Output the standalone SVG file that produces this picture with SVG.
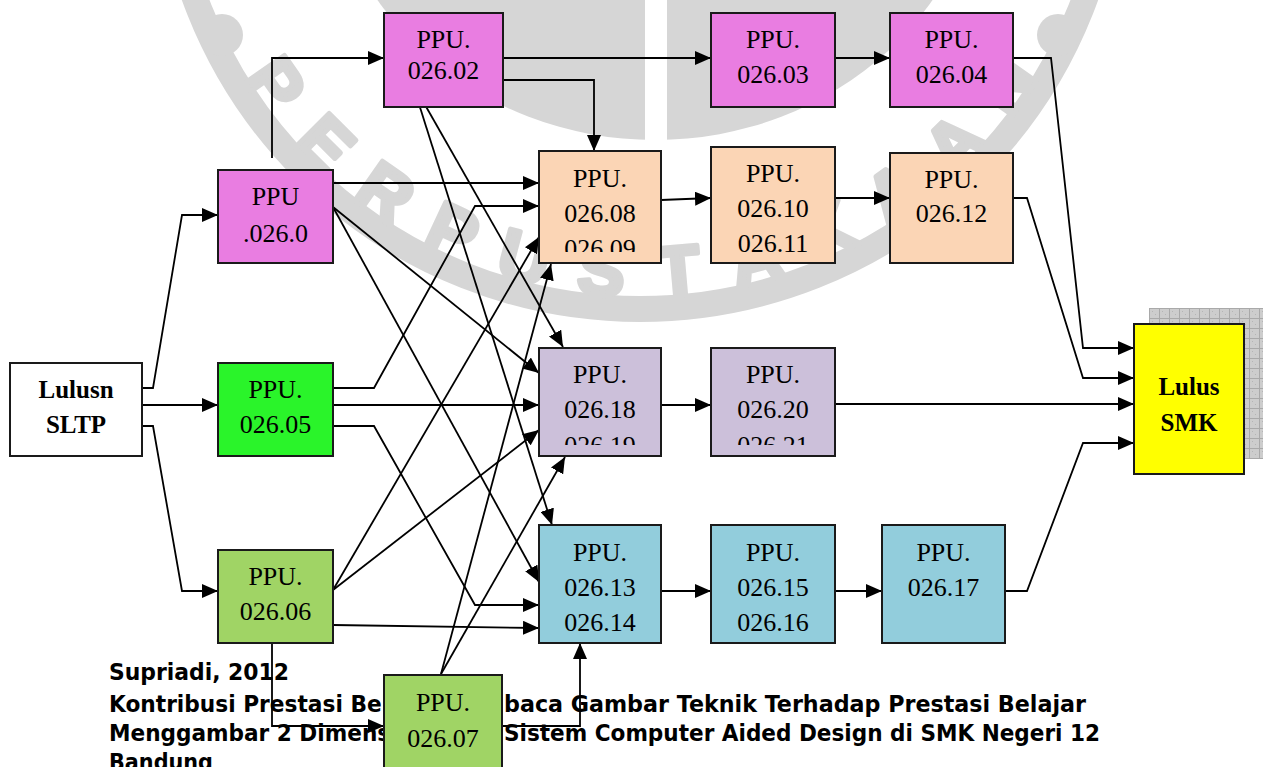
<svg xmlns="http://www.w3.org/2000/svg" width="1263" height="767" viewBox="0 0 1263 767">
<defs>
<style>
.box{stroke:#1a1a1a;stroke-width:2}
.pink{fill:#E97DE1}.peach{fill:#FBD5B5}.lav{fill:#CCC0DA}.blue{fill:#92CDDC}.green{fill:#2AF42A}.lgreen{fill:#A0D465}.yellow{fill:#FFFF00}.white{fill:#FFFFFF}
.t{font-family:"Liberation Serif","Times New Roman",serif;font-size:26px;text-anchor:middle;fill:#000}
.tb{font-family:"Liberation Serif","Times New Roman",serif;font-size:25px;font-weight:bold;text-anchor:middle;fill:#000}
.foot{font-family:"DejaVu Sans","Liberation Sans",sans-serif;font-size:23px;font-weight:bold;fill:#000}
.wm{font-family:"Liberation Sans",Arial,sans-serif;font-size:70px;font-weight:bold;fill:#d6d6d6;stroke:#d6d6d6;stroke-width:5;stroke-linejoin:round;text-anchor:middle}
.ca{fill:none;stroke:#000;stroke-width:1.8;marker-end:url(#ah)}
</style>
<marker id="ah" markerWidth="16" markerHeight="14" refX="16" refY="7" orient="auto" markerUnits="userSpaceOnUse"><path d="M0,0 L16,7 L0,14 z" fill="#000"/></marker>
<pattern id="grid" width="10" height="10" patternUnits="userSpaceOnUse" x="1149" y="308">
<rect width="10" height="10" fill="#cdcdcd"/>
<path d="M0,0.5 H10 M0.5,0 V10" stroke="#a9a9a9" stroke-width="1"/>
<rect x="3" y="3" width="1" height="1" fill="#b5b5b5"/><rect x="6" y="6" width="1" height="1" fill="#b5b5b5"/>
</pattern>
<clipPath id="clip08"><rect x="539" y="151" width="122" height="101"/></clipPath>
<clipPath id="clip18"><rect x="539" y="348" width="122" height="97"/></clipPath>
<clipPath id="clip20"><rect x="711" y="348" width="124" height="97"/></clipPath>
</defs>
<rect width="1263" height="767" fill="#ffffff"/>

<g id="watermark">
<circle cx="640" cy="-165" r="474" fill="none" stroke="#d6d6d6" stroke-width="26"/>
<ellipse cx="655" cy="-165" rx="330" ry="305" fill="#d6d6d6"/>
<rect x="645" y="0" width="22" height="145" fill="#ffffff"/>
<circle cx="222" cy="35" r="21" fill="#d6d6d6"/>
<circle cx="1058" cy="35" r="21" fill="#d6d6d6"/>
<text class="wm" dy="25" transform="translate(276,84) rotate(55)">P</text>
<text class="wm" dy="25" transform="translate(326,143) rotate(45)">E</text>
<text class="wm" dy="25" transform="translate(386,192) rotate(35)">R</text>
<text class="wm" dy="25" transform="translate(453,231) rotate(25)">P</text>
<text class="wm" dy="25" transform="translate(525,257) rotate(15)">U</text>
<text class="wm" dy="25" transform="translate(601.6,270) rotate(5)">S</text>
<text class="wm" dy="25" transform="translate(678.4,270) rotate(-5)">T</text>
<text class="wm" dy="25" transform="translate(755,257) rotate(-15)">A</text>
<text class="wm" dy="25" transform="translate(827,231) rotate(-25)">K</text>
<text class="wm" dy="25" transform="translate(894,192) rotate(-35)">A</text>
<text class="wm" dy="25" transform="translate(954,143) rotate(-45)">A</text>
<text class="wm" dy="25" transform="translate(1004,84) rotate(-55)">N</text>
</g>

<g id="caption">
<text class="foot" x="109" y="680" textLength="180" lengthAdjust="spacingAndGlyphs">Supriadi, 2012</text>
<text class="foot" x="109" y="712" textLength="394" lengthAdjust="spacingAndGlyphs">Kontribusi Prestasi Belajar Mem</text>
<text class="foot" x="504" y="712" textLength="582" lengthAdjust="spacingAndGlyphs">baca Gambar Teknik Terhadap Prestasi Belajar</text>
<text class="foot" x="109" y="741" textLength="387" lengthAdjust="spacingAndGlyphs">Menggambar 2 Dimensi dengan</text>
<text class="foot" x="504" y="741" textLength="596" lengthAdjust="spacingAndGlyphs">Sistem Computer Aided Design di SMK Negeri 12</text>
<text class="foot" x="109" y="770" textLength="104" lengthAdjust="spacingAndGlyphs">Bandung</text>
</g>

<g id="connectors">
<path class="ca" d="M272,158 V58 H384"/>
<path class="ca" d="M503,58 H711"/>
<path class="ca" d="M835,58 H890"/>
<path class="ca" d="M503,80 H594 V151"/>
<path class="ca" d="M1013,58 H1051 L1083,348 H1134"/>
<path class="ca" d="M1013,198 H1027 L1083,378 H1134"/>
<path class="ca" d="M835,404 H1134"/>
<path class="ca" d="M1005,591 H1027 L1083,443 H1134"/>
<path class="ca" d="M661,200 L711,198"/>
<path class="ca" d="M835,198 H890"/>
<path class="ca" d="M142,405 H218"/>
<path class="ca" d="M333,405 H539"/>
<path class="ca" d="M661,405 H711"/>
<path class="ca" d="M661,591 H711"/>
<path class="ca" d="M835,591 H882"/>
<path class="ca" d="M142,388 H153 L182,215 H218"/>
<path class="ca" d="M142,426 H153 L182,591 H218"/>
<path class="ca" d="M333,388 H374 L475,206 H539"/>
<path class="ca" d="M333,426 H374 L475,605 H539"/>
<path class="ca" d="M333,183 H539"/>
<path class="ca" d="M333,207 L539,373"/>
<path class="ca" d="M333,207 L539,582"/>
<path class="ca" d="M412,82 L563,347"/>
<path class="ca" d="M412,82 L552,525"/>
<path class="ca" d="M333,590 L539,237"/>
<path class="ca" d="M333,590 L539,430"/>
<path class="ca" d="M333,625 L539,628"/>
<path class="ca" d="M272,643 V726 H384"/>
<path class="ca" d="M441,674 L551,264"/>
<path class="ca" d="M441,674 L565,457"/>
<path class="ca" d="M502,726 H580 V643"/>
</g>

<g id="n_sltp"><rect class="box white" x="10" y="363" width="132" height="93"/><text class="tb" x="76" y="398">Lulusn</text><text class="tb" x="76" y="433">SLTP</text></g>
<g id="n_026_0"><rect class="box pink" x="218" y="170" width="115" height="93"/><text class="t" x="275.5" y="205">PPU</text><text class="t" x="275.5" y="242">.026.0</text></g>
<g id="n_026_02"><rect class="box pink" x="384" y="13" width="119" height="94"/><text class="t" x="443.5" y="48">PPU.</text><text class="t" x="443.5" y="79">026.02</text></g>
<g id="n_026_03"><rect class="box pink" x="711" y="13" width="124" height="94"/><text class="t" x="773" y="48">PPU.</text><text class="t" x="773" y="83">026.03</text></g>
<g id="n_026_04"><rect class="box pink" x="890" y="13" width="123" height="94"/><text class="t" x="951.5" y="48">PPU.</text><text class="t" x="951.5" y="83">026.04</text></g>
<g id="n_026_08"><rect class="box peach" x="539" y="151" width="122" height="112"/><g clip-path="url(#clip08)"><text class="t" x="600" y="187">PPU.</text><text class="t" x="600" y="222">026.08</text><text class="t" x="600" y="257">026.09</text></g></g>
<g id="n_026_10"><rect class="box peach" x="711" y="147" width="124" height="116"/><text class="t" x="773" y="182">PPU.</text><text class="t" x="773" y="217">026.10</text><text class="t" x="773" y="252">026.11</text></g>
<g id="n_026_12"><rect class="box peach" x="890" y="153" width="123" height="110"/><text class="t" x="951.5" y="188">PPU.</text><text class="t" x="951.5" y="222">026.12</text></g>
<g id="n_026_05"><rect class="box green" x="218" y="363" width="115" height="93"/><text class="t" x="275.5" y="398">PPU.</text><text class="t" x="275.5" y="433">026.05</text></g>
<g id="n_026_18"><rect class="box lav" x="539" y="348" width="122" height="108"/><g clip-path="url(#clip18)"><text class="t" x="600" y="383">PPU.</text><text class="t" x="600" y="418">026.18</text><text class="t" x="600" y="453.5">026.19</text></g></g>
<g id="n_026_20"><rect class="box lav" x="711" y="348" width="124" height="108"/><g clip-path="url(#clip20)"><text class="t" x="773" y="383">PPU.</text><text class="t" x="773" y="418">026.20</text><text class="t" x="773" y="453.5">026.21</text></g></g>
<g id="n_smk"><rect x="1149" y="308" width="114" height="151" fill="url(#grid)"/><rect class="box yellow" x="1134" y="324" width="110" height="150"/><text class="tb" x="1189" y="395">Lulus</text><text class="tb" x="1189" y="431">SMK</text></g>
<g id="n_026_06"><rect class="box lgreen" x="218" y="550" width="115" height="93"/><text class="t" x="275.5" y="585">PPU.</text><text class="t" x="275.5" y="620">026.06</text></g>
<g id="n_026_07"><rect class="box lgreen" x="384" y="675" width="118" height="110"/><text class="t" x="443" y="711">PPU.</text><text class="t" x="443" y="747">026.07</text></g>
<g id="n_026_13"><rect class="box blue" x="539" y="525" width="122" height="118"/><text class="t" x="600" y="561">PPU.</text><text class="t" x="600" y="596">026.13</text><text class="t" x="600" y="631">026.14</text></g>
<g id="n_026_15"><rect class="box blue" x="711" y="525" width="124" height="118"/><text class="t" x="773" y="561">PPU.</text><text class="t" x="773" y="596">026.15</text><text class="t" x="773" y="631">026.16</text></g>
<g id="n_026_17"><rect class="box blue" x="882" y="525" width="123" height="118"/><text class="t" x="943.5" y="561">PPU.</text><text class="t" x="943.5" y="596">026.17</text></g>
</svg>
